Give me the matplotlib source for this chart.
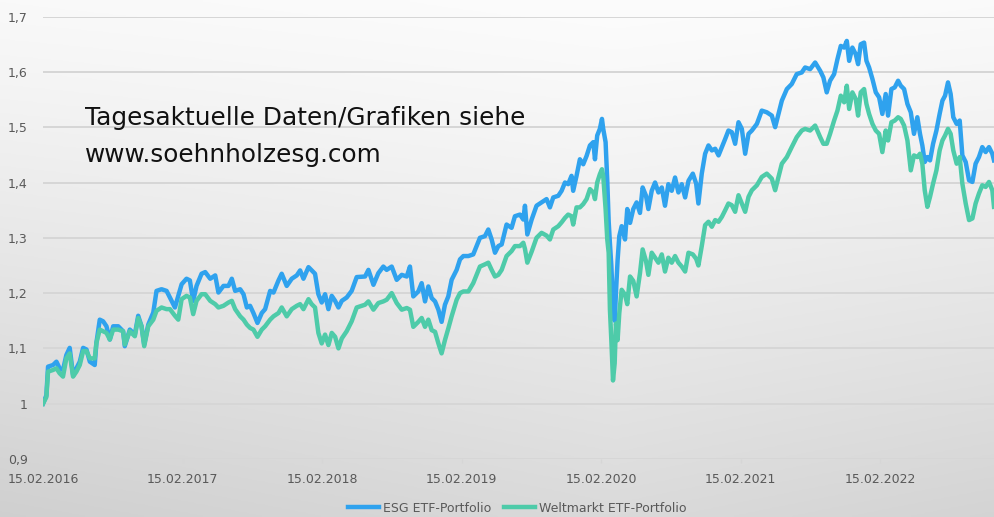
import numpy as np
import matplotlib
matplotlib.use("Agg")
import matplotlib.pyplot as plt
from matplotlib.ticker import FuncFormatter
from datetime import datetime

plt.rcParams['font.family'] = ['DejaVu Sans']

# ---- data (decimal years) ----
dates_dec = [
    2016.123, 2016.147, 2016.159, 2016.195, 2016.219, 2016.242, 2016.266, 2016.290, 2016.314, 2016.338,
    2016.362, 2016.386, 2016.410, 2016.434, 2016.458, 2016.493, 2016.505, 2016.529, 2016.553, 2016.577,
    2016.601, 2016.625, 2016.661, 2016.696, 2016.708, 2016.744, 2016.780, 2016.804, 2016.828, 2016.847,
    2016.876, 2016.912, 2016.935, 2016.971, 2017.007, 2017.031, 2017.067, 2017.091, 2017.115, 2017.150,
    2017.174, 2017.198, 2017.222, 2017.258,
    2017.284, 2017.320, 2017.356, 2017.379, 2017.415, 2017.451, 2017.475, 2017.499, 2017.535, 2017.559,
    2017.583, 2017.606, 2017.630, 2017.659, 2017.690, 2017.714, 2017.750, 2017.774, 2017.810, 2017.833,
    2017.869, 2017.905, 2017.941, 2017.965, 2017.989, 2018.025, 2018.048, 2018.072, 2018.096, 2018.120,
    2018.144, 2018.168, 2018.192, 2018.216, 2018.240, 2018.264, 2018.299, 2018.335, 2018.371,
    2018.431, 2018.455, 2018.491, 2018.526, 2018.562, 2018.586, 2018.622, 2018.658, 2018.694, 2018.730,
    2018.753, 2018.777, 2018.813, 2018.837, 2018.861, 2018.885, 2018.909, 2018.933, 2018.957, 2018.980,
    2019.004, 2019.028, 2019.052, 2019.088, 2019.112, 2019.136, 2019.172, 2019.207, 2019.231, 2019.255,
    2019.291, 2019.315, 2019.339, 2019.363, 2019.387, 2019.411, 2019.446, 2019.482, 2019.506, 2019.542,
    2019.566, 2019.578, 2019.595, 2019.626, 2019.661, 2019.697, 2019.733, 2019.757, 2019.781, 2019.817,
    2019.841, 2019.865, 2019.888, 2019.912, 2019.924, 2019.948, 2019.972, 2019.996, 2020.020, 2020.044,
    2020.068, 2020.080, 2020.096, 2020.115,
    2020.130, 2020.139, 2020.156, 2020.168, 2020.178, 2020.187, 2020.197, 2020.209, 2020.221, 2020.230,
    2020.242, 2020.254,
    2020.271, 2020.295, 2020.311, 2020.331, 2020.354, 2020.378, 2020.402, 2020.421, 2020.445, 2020.462,
    2020.486, 2020.510, 2020.534, 2020.558, 2020.581, 2020.605, 2020.629, 2020.653, 2020.677, 2020.701,
    2020.725, 2020.749,
    2020.780, 2020.804, 2020.820, 2020.844, 2020.868, 2020.892, 2020.916, 2020.940, 2020.964, 2020.988,
    2021.012, 2021.035, 2021.059, 2021.083, 2021.107, 2021.131, 2021.155, 2021.179, 2021.203, 2021.239,
    2021.274, 2021.310, 2021.346, 2021.370, 2021.394, 2021.418, 2021.454, 2021.489, 2021.525, 2021.561,
    2021.585, 2021.621, 2021.657, 2021.693, 2021.716, 2021.740, 2021.764, 2021.793,
    2021.817, 2021.841, 2021.865, 2021.884, 2021.901, 2021.924, 2021.948, 2021.965, 2021.984, 2022.008,
    2022.025, 2022.044, 2022.068, 2022.092, 2022.116, 2022.139, 2022.163, 2022.180, 2022.204, 2022.228,
    2022.252, 2022.271, 2022.295, 2022.319, 2022.343, 2022.366, 2022.390, 2022.409, 2022.426, 2022.443,
    2022.462, 2022.481, 2022.503, 2022.527, 2022.550, 2022.570, 2022.589, 2022.610, 2022.629, 2022.648,
    2022.672, 2022.694, 2022.713, 2022.737, 2022.761, 2022.785, 2022.808, 2022.832, 2022.856, 2022.880,
    2022.904, 2022.928, 2022.940,
]

esg_values = [
    1.000, 1.015, 1.067, 1.070, 1.076, 1.064, 1.061, 1.088, 1.101, 1.052,
    1.064, 1.076, 1.101, 1.098, 1.076, 1.070, 1.110, 1.152, 1.149, 1.140,
    1.116, 1.140, 1.140, 1.131, 1.104, 1.134, 1.125, 1.159, 1.140, 1.107,
    1.143, 1.165, 1.204, 1.207, 1.204, 1.192, 1.174, 1.195, 1.216, 1.226,
    1.223, 1.186, 1.213, 1.235,
    1.238, 1.226, 1.232, 1.201, 1.213, 1.213, 1.226, 1.204, 1.207, 1.198,
    1.174, 1.177, 1.164, 1.146, 1.164, 1.171, 1.204, 1.201, 1.223, 1.235,
    1.213, 1.226, 1.232, 1.241, 1.226, 1.247, 1.241, 1.235, 1.198, 1.183,
    1.198, 1.171, 1.195, 1.186, 1.174, 1.186, 1.192, 1.204, 1.229,
    1.230, 1.242, 1.215, 1.236, 1.248, 1.242, 1.248, 1.224, 1.233, 1.230,
    1.248, 1.194, 1.203, 1.218, 1.185, 1.212, 1.191, 1.185, 1.170, 1.148,
    1.179, 1.194, 1.224, 1.242, 1.261, 1.267, 1.267, 1.270, 1.285, 1.300,
    1.303, 1.315, 1.297, 1.273, 1.285, 1.288, 1.324, 1.318, 1.339, 1.342,
    1.333, 1.358, 1.306, 1.333, 1.358, 1.364, 1.370, 1.355, 1.373, 1.376,
    1.385, 1.400, 1.397, 1.412, 1.385, 1.412, 1.442, 1.433, 1.448, 1.467,
    1.473, 1.442, 1.485, 1.497,
    1.515, 1.497, 1.473, 1.403, 1.330, 1.290, 1.250, 1.180, 1.150, 1.200,
    1.260, 1.303,
    1.321, 1.297, 1.352, 1.327, 1.352, 1.364, 1.345, 1.391, 1.376, 1.352,
    1.385, 1.400, 1.382, 1.391, 1.358, 1.397, 1.385, 1.409, 1.382, 1.397,
    1.373, 1.403,
    1.416, 1.398, 1.362, 1.416, 1.452, 1.467, 1.458, 1.461, 1.449, 1.464,
    1.479, 1.494, 1.491, 1.470, 1.509, 1.497, 1.452, 1.488, 1.494, 1.506,
    1.530, 1.527, 1.521, 1.500, 1.524, 1.548, 1.569, 1.578, 1.596, 1.599,
    1.608, 1.605, 1.617, 1.602, 1.590, 1.563, 1.584, 1.596,
    1.623, 1.647, 1.644, 1.656, 1.620, 1.644, 1.632, 1.614, 1.650, 1.653,
    1.620, 1.608, 1.587, 1.563, 1.554, 1.524, 1.560, 1.521, 1.569, 1.572,
    1.584, 1.575, 1.569, 1.542, 1.527, 1.488, 1.518, 1.488, 1.467, 1.437,
    1.446, 1.440, 1.470, 1.494, 1.524, 1.548, 1.557, 1.581, 1.560, 1.518,
    1.506, 1.512, 1.449, 1.437, 1.404, 1.401, 1.434, 1.446, 1.464, 1.455,
    1.464, 1.452, 1.440,
]

welt_values = [
    1.000, 1.012, 1.058, 1.061, 1.064, 1.055, 1.049, 1.082, 1.091, 1.049,
    1.058, 1.070, 1.095, 1.095, 1.082, 1.082, 1.110, 1.134, 1.131, 1.128,
    1.116, 1.134, 1.134, 1.131, 1.107, 1.131, 1.122, 1.155, 1.140, 1.104,
    1.140, 1.152, 1.168, 1.174, 1.171, 1.171, 1.159, 1.152, 1.189, 1.195,
    1.192, 1.162, 1.186, 1.198,
    1.198, 1.186, 1.180, 1.174, 1.177, 1.183, 1.186, 1.171, 1.158, 1.152,
    1.143, 1.137, 1.134, 1.121, 1.134, 1.140, 1.152, 1.158, 1.164, 1.174,
    1.158, 1.171, 1.177, 1.180, 1.171, 1.189, 1.180, 1.174, 1.128, 1.109,
    1.125, 1.106, 1.128, 1.121, 1.100, 1.118, 1.131, 1.149, 1.174,
    1.179, 1.185, 1.170, 1.182, 1.185, 1.188, 1.200, 1.182, 1.170, 1.173,
    1.170, 1.139, 1.148, 1.155, 1.139, 1.152, 1.133, 1.130, 1.109, 1.091,
    1.115, 1.136, 1.158, 1.188, 1.200, 1.203, 1.203, 1.218, 1.233, 1.248,
    1.252, 1.255, 1.242, 1.230, 1.233, 1.242, 1.267, 1.276, 1.285, 1.285,
    1.291, 1.280, 1.255, 1.275, 1.300, 1.309, 1.304, 1.297, 1.315, 1.321,
    1.328, 1.336, 1.342, 1.339, 1.324, 1.355, 1.355, 1.361, 1.370, 1.388,
    1.382, 1.370, 1.400, 1.415,
    1.424, 1.412, 1.352, 1.297, 1.273, 1.170, 1.115, 1.042, 1.073, 1.145,
    1.115, 1.164,
    1.206, 1.197, 1.180, 1.230, 1.222, 1.194, 1.236, 1.279, 1.258, 1.233,
    1.273, 1.264, 1.255, 1.270, 1.239, 1.264, 1.255, 1.267, 1.255, 1.248,
    1.239, 1.273,
    1.270, 1.262, 1.250, 1.285, 1.323, 1.329, 1.320, 1.332, 1.329, 1.338,
    1.350, 1.362, 1.359, 1.347, 1.377, 1.362, 1.347, 1.374, 1.386, 1.395,
    1.410, 1.416, 1.407, 1.386, 1.410, 1.434, 1.446, 1.464, 1.482, 1.494,
    1.497, 1.494, 1.503, 1.482, 1.470, 1.470, 1.488, 1.512,
    1.530, 1.557, 1.545, 1.575, 1.533, 1.563, 1.551, 1.521, 1.563, 1.569,
    1.542, 1.524, 1.506, 1.494, 1.488, 1.455, 1.494, 1.476, 1.509, 1.512,
    1.518, 1.515, 1.503, 1.476, 1.422, 1.449, 1.446, 1.452, 1.434, 1.386,
    1.356, 1.374, 1.398, 1.422, 1.458, 1.476, 1.485, 1.497, 1.488, 1.458,
    1.434, 1.446, 1.398, 1.362, 1.332, 1.335, 1.362, 1.380, 1.395, 1.392,
    1.401, 1.386, 1.356,
]

series_names = ["ESG ETF-Portfolio", "Weltmarkt ETF-Portfolio"]
tick_years = [2016, 2017, 2018, 2019, 2020, 2021, 2022]
y_ticks = [0.9, 1.0, 1.1, 1.2, 1.3, 1.4, 1.5, 1.6, 1.7]
note_lines = ["Tagesaktuelle Daten/Grafiken siehe", "www.soehnholzesg.com"]


def dec2dt(d):
    y = int(d)
    start = datetime(y, 1, 1)
    end = datetime(y + 1, 1, 1)
    return start + (end - start) * (d - y)


dates = [dec2dt(d) for d in dates_dec]

W, H = 994, 517
fig = plt.figure(figsize=(W / 100, H / 100), dpi=100)

# background gradient
bg = fig.add_axes([0, 0, 1, 1], zorder=-10)
yy, xx = np.mgrid[0:1:200j, 0:1:300j]
shade = 252 - 34 * yy ** 1.2 - 12 * np.abs(xx - 0.62) * (0.4 + yy)
bg.imshow(np.dstack([shade, shade, shade]) / 255.0, aspect='auto', extent=[0, 1, 0, 1], origin='upper')
bg.set_axis_off()

left = 43 / W
bottom = 1 - 459 / H
top = 1 - 16.6 / H
ax = fig.add_axes([left, bottom, 1 - left, top - bottom])
ax.set_facecolor('none')

blue = '#2FA2EE'
green = '#4ECBA9'
ax.plot(dates, esg_values, color=blue, lw=3.2, solid_joinstyle='round', label=series_names[0], zorder=3)
ax.plot(dates, welt_values, color=green, lw=3.2, solid_joinstyle='round', label=series_names[1], zorder=4)

ax.set_ylim(0.9, 1.7)
ax.set_xlim(datetime(2016, 2, 15), dates[-1])
ax.set_yticks(y_ticks)


def fmt(v, pos):
    s = f"{v:.1f}"
    if s.endswith('.0'):
        s = s[:-2]
    return s.replace('.', ',')


ax.yaxis.set_major_formatter(FuncFormatter(fmt))
ax.set_xticks([datetime(y, 2, 15) for y in tick_years])
ax.set_xticklabels([f"15.02.{y}" for y in tick_years])
ax.grid(axis='y', color='#d6d6d6', lw=1.4)
ax.set_axisbelow(True)
for s in ax.spines.values():
    s.set_visible(False)
ax.tick_params(axis='y', length=0, pad=11, labelsize=9, labelcolor='#595959')
ax.tick_params(axis='x', length=3, width=1, color='#d6d6d6', pad=7, labelsize=9, labelcolor='#595959')

fig.text(85 / W, 1 - 118 / H, note_lines[0], fontsize=17.8, color='#111111', va='center', ha='left')
fig.text(85 / W, 1 - 155 / H, note_lines[1], fontsize=17.8, color='#111111', va='center', ha='left')

fig.legend(loc='center', bbox_to_anchor=(517 / W, 1 - 508 / H), ncol=2, frameon=False,
           fontsize=9, handlelength=2.5, columnspacing=1.0, handletextpad=0.3,
           labelcolor='#595959')

fig.savefig('out.png', dpi=100)
